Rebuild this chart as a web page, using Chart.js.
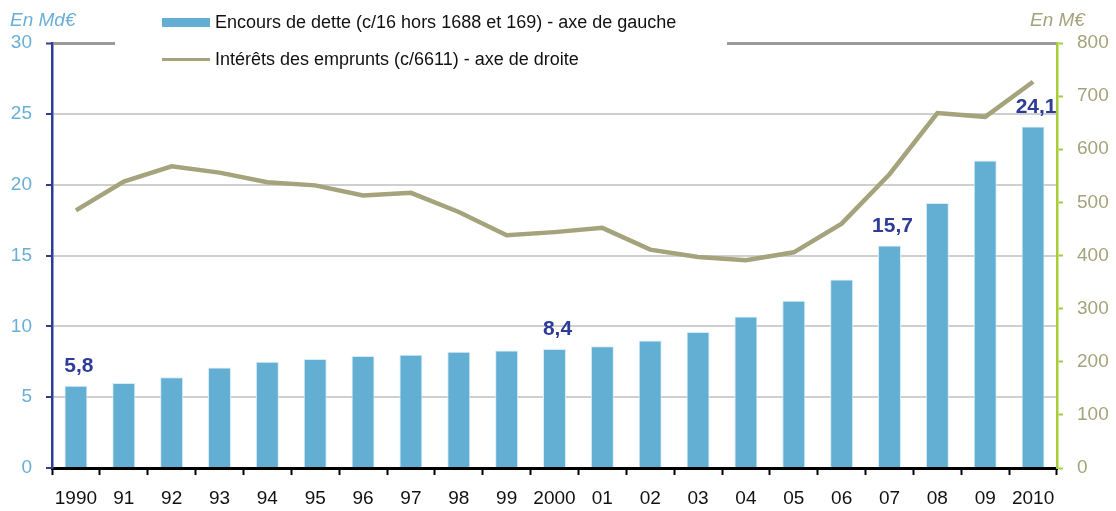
<!DOCTYPE html>
<html>
<head>
<meta charset="utf-8">
<script src="https://cdn.jsdelivr.net/npm/chart.js@4.4.1/dist/chart.umd.min.js"></script>
<style>
  html, body { margin: 0; padding: 0; background: #fff; }
  #wrap { width: 1116px; height: 511px; position: relative; }
</style>
</head>
<body>
<div id="wrap"><canvas id="chart" width="1116" height="511"></canvas></div>
<script>
var years = ['1990', '91', '92', '93', '94', '95', '96', '97', '98', '99', '2000',
             '01', '02', '03', '04', '05', '06', '07', '08', '09', '2010'];
// encours de dette, Md€ (axe de gauche)
var encours = [5.8, 6.0, 6.4, 7.1, 7.5, 7.7, 7.9, 8.0, 8.2, 8.3, 8.4,
               8.6, 9.0, 9.6, 10.7, 11.8, 13.3, 15.7, 18.7, 21.7, 24.1];
// intérêts des emprunts, M€ (axe de droite)
var interets = [485, 539, 568, 556, 538, 532, 513, 518, 482, 438, 444,
                452, 411, 397, 391, 406, 460, 553, 668, 661, 727];
var labelledYears = [0, 10, 17, 20];

var legendEncours = 'Encours de dette (c/16 hors 1688 et 169) - axe de gauche';
var legendInterets = 'Intérêts des emprunts (c/6611) - axe de droite';

var barColor = '#63afd3';
var lineColor = '#a4a37b';
var leftBlue = '#6aaed6';
var darkBlue = '#2e3c98';
var axisGreen = '#a7cd3a';

var decorPlugin = {
    id: 'decor',
    afterDatasetsDraw: function(chart) {
        var ctx = chart.ctx;
        var meta = chart.getDatasetMeta(1); // bar dataset
        ctx.save();
        ctx.fillStyle = darkBlue;
        ctx.font = 'bold 21px "Liberation Sans", Arial, sans-serif';
        ctx.textAlign = 'center';
        ctx.textBaseline = 'bottom';
        labelledYears.forEach(function(i) {
            var bar = meta.data[i];
            ctx.fillText(encours[i].toFixed(1).replace('.', ','), bar.x + 3, bar.y - 9);
        });
        ctx.restore();
    },
    afterDraw: function(chart) {
        var ctx = chart.ctx;
        ctx.save();
        // legend box hides part of the top grid line
        ctx.fillStyle = '#fff';
        ctx.fillRect(115, 36, 612, 14);

        ctx.fillStyle = barColor;
        ctx.fillRect(162, 18, 48, 9);
        ctx.strokeStyle = lineColor;
        ctx.lineWidth = 3;
        ctx.beginPath();
        ctx.moveTo(162, 59.5);
        ctx.lineTo(210, 59.5);
        ctx.stroke();

        ctx.fillStyle = '#111';
        ctx.font = '18px "Liberation Sans", Arial, sans-serif';
        ctx.textAlign = 'left';
        ctx.textBaseline = 'middle';
        ctx.fillText(legendEncours, 215, 23);
        ctx.fillText(legendInterets, 215, 60);

        // axis titles
        ctx.font = 'italic 19px "Liberation Sans", Arial, sans-serif';
        ctx.fillStyle = leftBlue;
        ctx.fillText('En Md€', 10, 21);
        ctx.fillStyle = lineColor;
        ctx.fillText('En M€', 1030, 21);
        ctx.restore();
    }
};

new Chart(document.getElementById('chart'), {
    type: 'bar',
    data: {
        labels: years,
        datasets: [{
            type: 'line',
            label: legendInterets,
            data: interets,
            yAxisID: 'y1',
            borderColor: lineColor,
            borderWidth: 4.5,
            pointRadius: 0,
            tension: 0,
            order: 0
        }, {
            label: legendEncours,
            data: encours,
            yAxisID: 'y',
            backgroundColor: barColor,
            borderColor: '#d6ecf6',
            borderWidth: 1,
            categoryPercentage: 1,
            barPercentage: 0.48,
            order: 1
        }]
    },
    options: {
        responsive: false,
        animation: false,
        layout: { padding: { top: 43, left: 0, right: 0, bottom: 0 } },
        plugins: {
            legend: { display: false },
            tooltip: { enabled: false }
        },
        scales: {
            x: {
                afterFit: function(s) { s.height = 43; },
                grid: {
                    offset: true,
                    drawOnChartArea: false,
                    drawTicks: true,
                    tickLength: 7,
                    tickColor: '#000',
                    tickWidth: 2
                },
                border: { color: '#000', width: 3 },
                ticks: {
                    color: '#111',
                    font: { family: '"Liberation Sans", Arial, sans-serif', size: 19 },
                    padding: 12,
                    maxRotation: 0,
                    autoSkip: false
                }
            },
            y: {
                position: 'left',
                min: 0,
                max: 30,
                afterFit: function(s) { s.width = 52; },
                ticks: {
                    stepSize: 5,
                    color: leftBlue,
                    font: { family: '"Liberation Sans", Arial, sans-serif', size: 19 },
                    padding: 14
                },
                grid: {
                    color: function(c) { return c.tick && c.tick.value === 30 ? '#9a9a9a' : '#cfcfcf'; },
                    lineWidth: function(c) { return c.tick && c.tick.value === 30 ? 3 : 2; },
                    tickColor: darkBlue,
                    tickLength: 6,
                    tickWidth: 2
                },
                border: { color: darkBlue, width: 2.5 }
            },
            y1: {
                position: 'right',
                min: 0,
                max: 800,
                afterFit: function(s) { s.width = 59; },
                ticks: {
                    stepSize: 100,
                    color: lineColor,
                    font: { family: '"Liberation Sans", Arial, sans-serif', size: 19 },
                    padding: 14
                },
                grid: {
                    drawOnChartArea: false,
                    tickColor: axisGreen,
                    tickLength: 6,
                    tickWidth: 2
                },
                border: { color: axisGreen, width: 2.5 }
            }
        }
    },
    plugins: [decorPlugin]
});
</script>
</body>
</html>
